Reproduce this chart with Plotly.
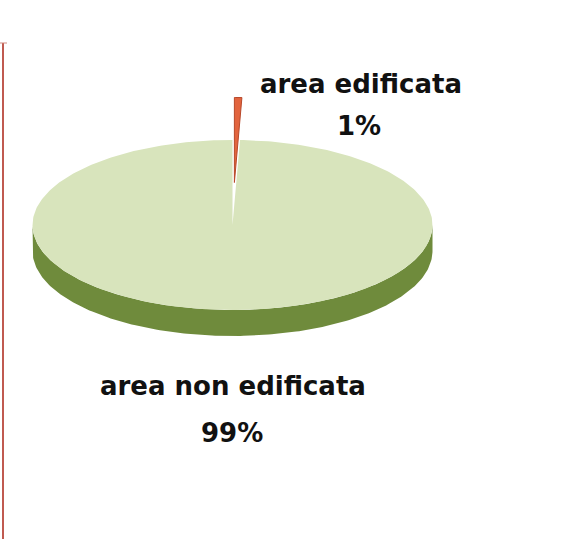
import numpy as np
import plotly.graph_objects as go

# ---- data (labels show rounded percentages) ----
labels = ["area edificata", "area non edificata"]
values = [0.6, 99.4]

# ---- styling ----
top_colors = ["#E2643E", "#D8E4BC"]
side_colors = ["#B4482C", "#6F8B3C"]
edge_colors = ["#B8482A", "rgba(0,0,0,0)"]
explode = [0.5, 0.0]

W, H = 586, 539
cx, cy, rx, ry, depth = 232.5, 225.0, 200.0, 85.0, 26.0

total = float(sum(values))


def pt(theta_deg, off=(0.0, 0.0), dz=0.0, r=1.0):
    t = np.radians(theta_deg)
    return (cx + off[0] + r * rx * np.sin(t),
            cy + off[1] - r * ry * np.cos(t) + dz)


fig = go.Figure()

slices = []
acc = 0.0
for lab, v, e in zip(labels, values, explode):
    a0 = acc / total * 360.0
    a1 = (acc + v) / total * 360.0
    acc += v
    mid = np.radians((a0 + a1) / 2)
    off = (e * rx * np.sin(mid), -e * ry * np.cos(mid))
    slices.append((lab, v, a0, a1, off))

# draw back (exploded) slices first, then the big slice in front
order = sorted(range(len(slices)), key=lambda k: values[k])
for i in order:
    lab, v, a0, a1, off = slices[i]
    # visible side (front half)
    s0, s1 = max(a0, 90.0), min(a1, 270.0)
    if s1 > s0:
        th = np.linspace(s0, s1, 200)
        xs_t, ys_t = pt(th, off)
        xs_b, ys_b = pt(th[::-1], off, depth)
        xs = np.concatenate([xs_t, xs_b, xs_t[:1]])
        ys = np.concatenate([ys_t, ys_b, ys_t[:1]])
        fig.add_trace(go.Scatter(x=xs, y=ys, mode="lines", fill="toself",
                                 fillcolor=side_colors[i], line=dict(width=0),
                                 hoverinfo="skip", showlegend=False))
    # top face
    th = np.linspace(a0, a1, 400)
    ax_, ay_ = pt(th, off)
    xs = np.concatenate([[cx + off[0]], ax_, [cx + off[0]]])
    ys = np.concatenate([[cy + off[1]], ay_, [cy + off[1]]])
    fig.add_trace(go.Scatter(x=xs, y=ys, mode="lines", fill="toself",
                             fillcolor=top_colors[i],
                             line=dict(width=1 if explode[i] > 0 else 0,
                                       color=edge_colors[i]),
                             hoverinfo="skip", showlegend=False))

# labels
label_pos = [((361, 84), (359, 126)), ((233, 386), (232, 433))]
for i, (lab, v, a0, a1, off) in enumerate(slices):
    pct = int(round(100 * v / total))
    (nx, ny), (px, py) = label_pos[i]
    for txt, x, y in ((lab, nx, ny), (f"{pct}%", px, py)):
        fig.add_annotation(x=x, y=y, xref="x", yref="y", text=txt,
                           showarrow=False, xanchor="center", yanchor="middle",
                           font=dict(family="DejaVu Sans", size=26,
                                     color="#111111", weight="bold"))

# left border line
fig.add_shape(type="line", xref="x", yref="y", x0=3, x1=3, y0=43, y1=H,
              line=dict(color="#C05A50", width=2))
fig.add_shape(type="line", xref="x", yref="y", x0=0, x1=7, y0=43, y1=43,
              line=dict(color="#D08A80", width=1))

fig.update_xaxes(range=[0, W], visible=False, fixedrange=True)
fig.update_yaxes(range=[H, 0], visible=False, fixedrange=True)
fig.update_layout(width=W, height=H, margin=dict(l=0, r=0, t=0, b=0),
                  paper_bgcolor="white", plot_bgcolor="white",
                  showlegend=False)

fig.write_html("out.html",
               config={"displayModeBar": False, "staticPlot": True},
               post_script="document.body.style.margin='0';"
                           "document.body.style.overflow='hidden';")
